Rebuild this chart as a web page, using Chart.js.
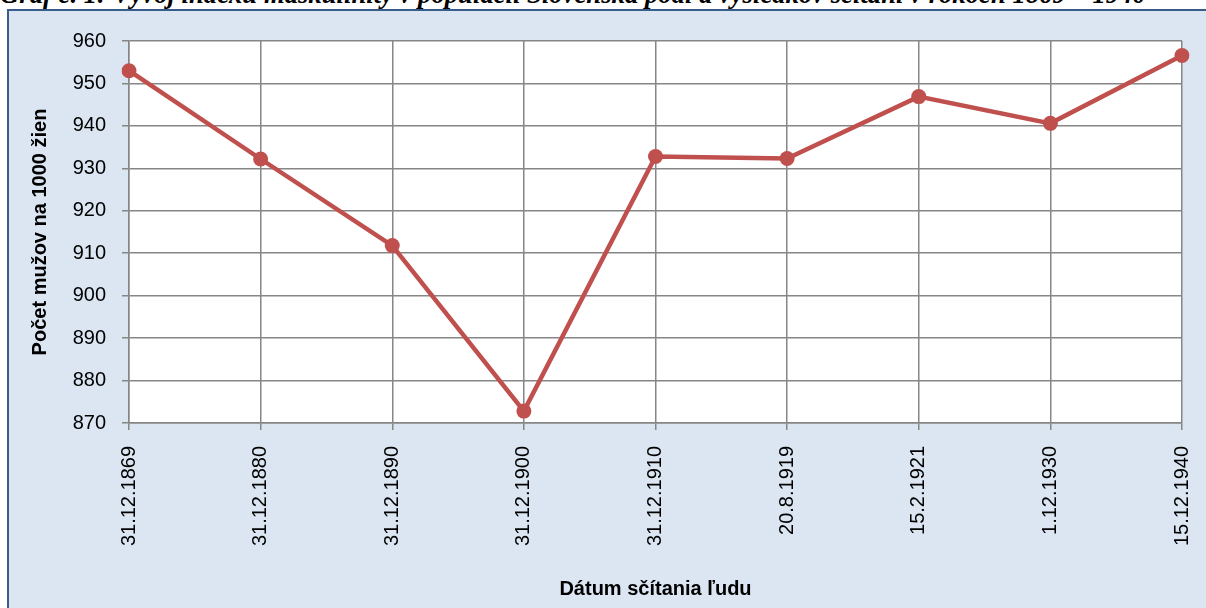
<!DOCTYPE html>
<html>
<head>
<meta charset="utf-8">
<script src="https://cdn.jsdelivr.net/npm/chart.js@4"></script>
<style>
  html, body { margin: 0; padding: 0; width: 1206px; height: 608px; overflow: hidden; background: #fff; }
  #box { position: absolute; left: 7px; top: 9px; width: 1400px; height: 800px;
         background: #dce6f2; border-left: 2px solid #385d8a; border-top: 2px solid #385d8a; }
  #title { position: absolute; left: 0; top: -19px; white-space: nowrap;
           font: italic bold 26.7px "Liberation Serif", "Times New Roman", serif; line-height: 27px; color: #000; }
  #chart { position: absolute; left: 0; top: 0; }
</style>
</head>
<body>
<div id="box"></div>
<div id="title">Graf č. 1: Vývoj indexu maskulinity v populácii Slovenska podľa výsledkov sčítaní v rokoch 1869 – 1940</div>
<canvas id="chart" width="1206" height="608"></canvas>
<script>
const dates = ['31.12.1869', '31.12.1880', '31.12.1890', '31.12.1900', '31.12.1910', '20.8.1919', '15.2.1921', '1.12.1930', '15.12.1940'];
const index = [953.0, 932.2, 911.8, 872.8, 932.8, 932.3, 946.9, 940.6, 956.6];
const yTicks = [870, 880, 890, 900, 910, 920, 930, 940, 950, 960];

const whiteArea = {
    id: 'whiteArea',
    beforeDraw(chart) {
        const { ctx, chartArea: a } = chart;
        ctx.save();
        ctx.fillStyle = '#ffffff';
        ctx.fillRect(a.left, a.top, a.right - a.left, a.bottom - a.top);
        ctx.restore();
    }
};

const tickFont = { family: 'Liberation Sans, Arial, sans-serif', size: 20 };
const titleFont = { family: 'Liberation Sans, Arial, sans-serif', size: 20, weight: 'bold' };

new Chart(document.getElementById('chart'), {
    type: 'line',
    data: {
        labels: dates,
        datasets: [{
            data: index,
            borderColor: '#c0504d',
            backgroundColor: '#c0504d',
            borderWidth: 4.5,
            pointRadius: 7.5,
            pointBorderWidth: 0,
            tension: 0
        }]
    },
    options: {
        responsive: false,
        animation: false,
        devicePixelRatio: 1,
        layout: { padding: { top: 41, right: 24, left: 0, bottom: 0 } },
        plugins: { legend: { display: false }, tooltip: { enabled: false } },
        scales: {
            x: {
                type: 'category',
                offset: false,
                grid: { color: '#868686', lineWidth: 1.5, tickLength: 7, offset: false },
                border: { color: '#868686', width: 1.5 },
                ticks: { color: '#000', font: tickFont, minRotation: 90, maxRotation: 90, padding: 16, autoSkip: false },
                title: { display: true, text: 'Dátum sčítania ľudu', color: '#000', font: titleFont, padding: { top: 0, bottom: 7 } },
                afterFit(s) { s.height = 185; s.paddingLeft = 0; s.paddingRight = 0; }
            },
            y: {
                min: 870,
                max: 960,
                afterBuildTicks(s) { s.ticks = yTicks.map(v => ({ value: v })); },
                grid: { color: '#868686', lineWidth: 1.5, tickLength: 7 },
                border: { color: '#868686', width: 1.5 },
                ticks: { color: '#000', font: tickFont, padding: 16 },
                title: { display: true, text: 'Počet mužov na 1000 žien', color: '#000', font: titleFont, padding: { top: 28, bottom: 0 } },
                afterFit(s) { s.width = 129; s.paddingTop = 0; s.paddingBottom = 0; }
            }
        }
    },
    plugins: [whiteArea]
});
</script>
</body>
</html>
